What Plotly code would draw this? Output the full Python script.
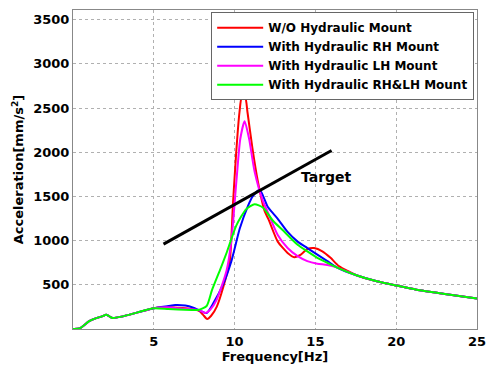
import plotly.graph_objects as go

# Shared low-frequency part (all curves coincide)
low_f = [0, 0.4, 1.0, 1.4, 1.8, 2.05, 2.25, 2.45, 3.0, 4.0, 5.0]
low_a = [0, 5, 88, 120, 143, 160, 143, 125, 140, 188, 235]

# Shared high-frequency tail
tail_f = [17.58, 18.8, 20.0, 21.26, 22.9, 25.0]
tail_a = [605, 540, 492, 445, 400, 345]

red_f = [5.9, 6.5, 7.2, 7.8, 8.05, 8.3, 8.55, 8.9, 9.3, 9.7, 9.9, 10.1, 10.3, 10.45, 10.65, 10.8, 11.1, 11.44, 11.85,
         12.1, 12.67, 13.28, 13.69, 14.1, 14.5, 14.92, 15.43, 15.94, 16.45]
red_a = [245, 240, 230, 205, 160, 114, 150, 254, 475, 768, 1420, 2000, 2450, 2627, 2627, 2450, 2050, 1670, 1339,
         1240, 989, 861, 813, 842, 905, 916, 879, 805, 713]

blue_f = [5.9, 6.33, 6.95, 7.45, 7.96, 8.27, 8.68, 9.3, 9.8, 10.32, 10.83, 11.13, 11.55, 12.06, 12.67, 13.28,
          13.9, 14.5, 15.12, 15.74, 16.35]
blue_a = [260, 272, 265, 240, 200, 180, 290, 511, 768, 1137, 1394, 1504, 1575, 1380, 1247, 1099,
          989, 916, 842, 768, 695]

mag_f = [5.9, 6.5, 7.2, 7.8, 8.17, 8.5, 8.88, 9.5, 9.8, 10.11, 10.35, 10.62, 10.9, 11.24, 11.75, 12.06, 12.67,
         13.28, 13.9, 14.5, 15.12, 15.74, 16.35]
mag_a = [245, 235, 225, 215, 180, 220, 327, 658, 1000, 1670, 2150, 2351, 2150, 1780, 1449, 1320, 1063,
         916, 824, 768, 739, 724, 695]

green_f = [5.9, 6.5, 7.35, 7.76, 8.27, 8.6, 9.1, 9.5, 10.11, 10.72, 11.24, 11.75, 12.36, 12.97, 13.9, 14.5,
           15.12, 15.74, 16.35]
green_a = [225, 220, 216, 216, 260, 440, 670, 860, 1173, 1357, 1413, 1375, 1228, 1120, 953, 879,
           805, 750, 695]

target_f = [5.6, 16.0]
target_a = [960, 2020]

series = [
    ("W/O Hydraulic Mount", red_f, red_a, "#ff0000"),
    ("With Hydraulic RH Mount", blue_f, blue_a, "#0000ff"),
    ("With Hydraulic LH Mount", mag_f, mag_a, "#ff00ff"),
    ("With Hydraulic RH&LH Mount", green_f, green_a, "#00ff00"),
]

FONT = "DejaVu Sans, Arial, sans-serif"

fig = go.Figure()
for name, f, a, col in series:
    fig.add_trace(go.Scatter(
        x=low_f + f + tail_f, y=low_a + a + tail_a, mode="lines", name=name,
        line=dict(color=col, width=2, shape="spline", smoothing=0.6),
    ))

fig.add_trace(go.Scatter(
    x=target_f, y=target_a, mode="lines", showlegend=False,
    line=dict(color="black", width=3),
))

fig.add_annotation(x=15.7, y=1725, text="<b>Target</b>", showarrow=False,
                   font=dict(family=FONT, size=14, color="black"))

fig.update_layout(
    width=495, height=370,
    margin=dict(l=73, r=13, t=9, b=34),
    paper_bgcolor="white", plot_bgcolor="white",
    font=dict(family=FONT, size=13, color="black"),
    showlegend=True,
    legend=dict(
        x=0.993, y=0.993, xanchor="right", yanchor="top",
        bgcolor="white", bordercolor="#666", borderwidth=1,
        font=dict(family=FONT, size=12, color="black", weight="bold"),
        tracegroupgap=0, itemwidth=46,
    ),
    xaxis=dict(
        range=[0, 25], tickvals=[5, 10, 15, 20, 25], ticktext=["5", "10", "15", "20", "25"],
        showgrid=True, gridcolor="#b0b0b0", griddash="dot", gridwidth=1,
        showline=True, linecolor="#888", mirror=True, linewidth=1,
        ticks="",
        tickfont=dict(family=FONT, size=13, weight="bold"),
        title=dict(text="<b>Frequency[Hz]</b>", font=dict(family=FONT, size=13), standoff=3),
        zeroline=False,
    ),
    yaxis=dict(
        range=[0, 3610], tickvals=[500, 1000, 1500, 2000, 2500, 3000, 3500],
        showgrid=True, gridcolor="#b0b0b0", griddash="dot", gridwidth=1,
        showline=True, linecolor="#888", mirror=True, linewidth=1,
        ticks="",
        tickfont=dict(family=FONT, size=13, weight="bold"),
        title=dict(text="<b>Acceleration[mm/s<sup>2</sup>]</b>", font=dict(family=FONT, size=13), standoff=6),
        zeroline=False,
    ),
)

fig.write_html("out.html")
